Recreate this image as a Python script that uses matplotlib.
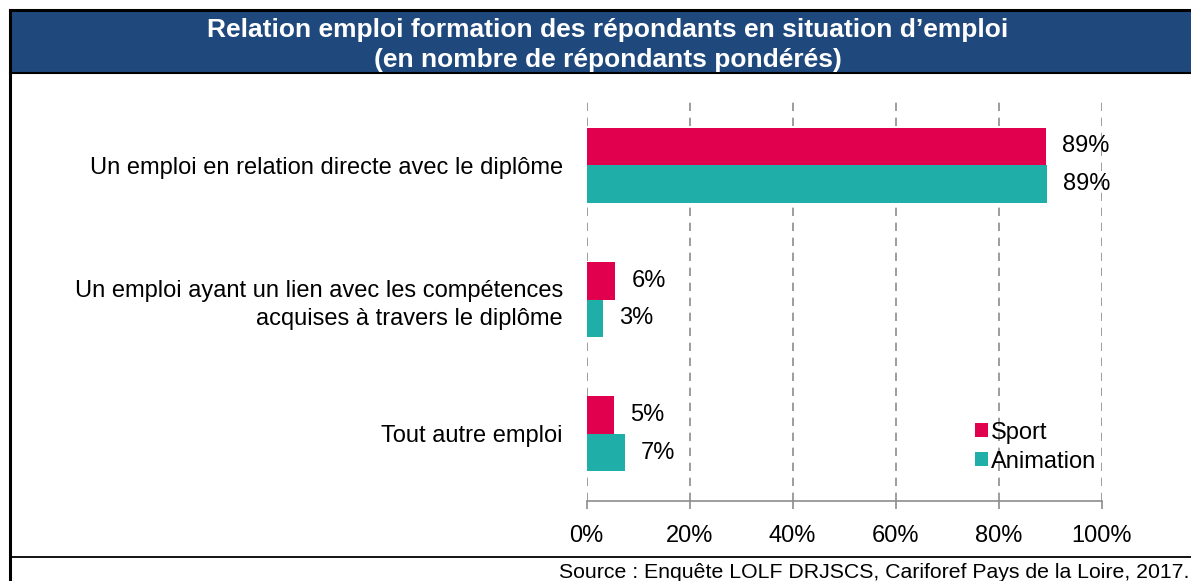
import matplotlib

matplotlib.use("Agg")
import matplotlib.pyplot as plt
import numpy as np
from matplotlib.lines import Line2D
from matplotlib.patches import Rectangle
from matplotlib.ticker import PercentFormatter

CATEGORIES = [
    "Un emploi en relation directe avec le diplôme",
    "Un emploi ayant un lien avec les compétences\nacquises à travers le diplôme",
    "Tout autre emploi",
]
SPORT = [89.3, 5.6, 5.4]
ANIMATION = [89.4, 3.3, 7.4]
SERIES = ["Sport", "Animation"]
XTICKS = [0, 20, 40, 60, 80, 100]

RED = "#E0004D"; TEAL = "#20AFA8"; NAVY = "#1F497D"; GRID = "#8c8c8c"

plt.rcParams["font.family"] = ["Liberation Sans", "DejaVu Sans"]

W, H = 1191, 581
fig = plt.figure(figsize=(W / 100, H / 100), dpi=100)


def fx(px):
    return px / W


def fy(py):
    return 1 - py / H


# title band and frame lines
fig.patches.append(Rectangle((fx(10), fy(73)), 1, fy(10) - fy(73),
                             transform=fig.transFigure, facecolor=NAVY,
                             edgecolor="none"))
for (x0, y0, x1, y1, lw) in [(10, 10, W, 10, 2.2), (10, 10, 10, H, 2.2),
                             (10, 73, W, 73, 1.5), (10, 557, W, 557, 1.3)]:
    fig.add_artist(Line2D([fx(x0), fx(x1)], [fy(y0), fy(y1)], color="black",
                          lw=lw, transform=fig.transFigure))
fig.text(fx(608), fy(45), "Relation emploi formation des répondants en situation d’emploi\n"
         "(en nombre de répondants pondérés)", ha="center", va="center",
         color="white", fontsize=19, fontweight="bold", linespacing=1.3)
fig.text(fx(1189), fy(573), "Source : Enquête LOLF DRJSCS, Cariforef Pays de la Loire, 2017.",
         ha="right", va="center", fontsize=15.3, color="black")

ax = fig.add_axes([fx(586.5), fy(501), fx(1101.5) - fx(586.5), fy(98) - fy(501)])
y = np.arange(len(CATEGORIES))
h = 0.28
b1 = ax.barh(y - h / 2, SPORT, height=h, color=RED, label=SERIES[0])
b2 = ax.barh(y + h / 2, ANIMATION, height=h, color=TEAL, label=SERIES[1])
for bars, vals in ((b1, SPORT), (b2, ANIMATION)):
    for bar, v in zip(bars, vals):
        ax.annotate(f"{v:.0f}%", (v, bar.get_y() + bar.get_height() / 2),
                    xytext=(11.5, 0), textcoords="offset points", ha="left",
                    va="center", fontsize=17)

ax.set_xlim(0, 100)
ax.set_ylim(2.5, -0.5)
ax.set_xticks(XTICKS)
ax.xaxis.set_major_formatter(PercentFormatter(decimals=0))
ax.set_yticks(y)
ax.set_yticklabels(CATEGORIES, fontsize=17, multialignment="right",
                   linespacing=1.35)
ax.tick_params(axis="y", length=0, pad=17)
ax.tick_params(axis="x", length=6, width=1.2, color=GRID, labelsize=17, pad=11,
               direction="out")
for s in ("top", "right", "left"):
    ax.spines[s].set_visible(False)
ax.spines["bottom"].set_color(GRID)
ax.spines["bottom"].set_linewidth(1.2)
ax.xaxis.grid(True, color=GRID, ls=(0, (5, 4)), lw=1.2)
ax.set_axisbelow(True)

ax.legend(loc="upper left", bbox_to_anchor=(fx(958), fy(405)),
          bbox_transform=fig.transFigure, frameon=False, fontsize=17,
          handlelength=0.55, handleheight=0.55, handletextpad=0.15,
          labelspacing=0.3, borderpad=0.2)

fig.savefig("out.png", dpi=100)
